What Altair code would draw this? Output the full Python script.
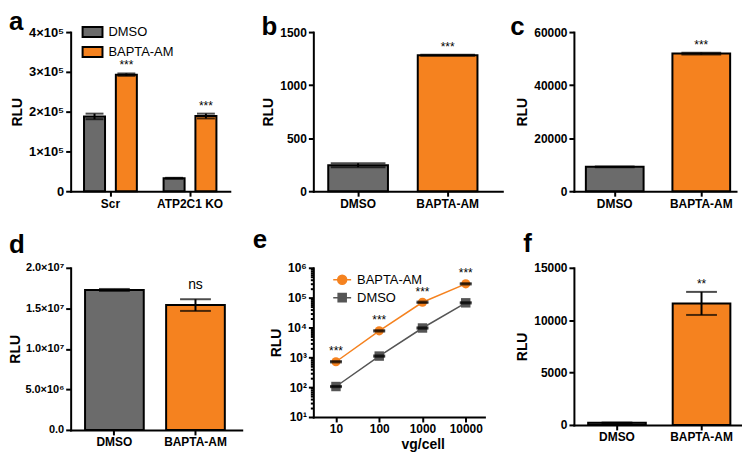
import altair as alt
import pandas as pd

FONT = "Liberation Sans"
GRAY = "#6b6b6b"
ORANGE = "#f5821f"
EGRAY = "#555555"
TREATS = ["DMSO", "BAPTA-AM"]

# ---- data ----
a_group = ["Scr", "Scr", "ATP2C1 KO", "ATP2C1 KO"]
a_treat = ["DMSO", "BAPTA-AM", "DMSO", "BAPTA-AM"]
a_mean = [188000, 293000, 32500, 189000]
a_err = [7000, 3000, 1200, 6000]
a_sig = ["", "***", "", "***"]

b_mean = [245, 1282]
b_err = [18, 4]
b_sig = ["", "***"]

c_mean = [9200, 51900]
c_err = [150, 350]
c_sig = ["", "***"]

d_mean = [1.727e7, 1.54e7]
d_err = [0.012e7, 0.072e7]
d_sig = ["", "ns"]

e_dose = [10, 100, 1000, 10000]
e_bapta = [710, 7700, 70000, 290000]
e_bapta_err = [35, 380, 3500, 14000]
e_dmso = [105, 1100, 9600, 67000]
e_dmso_err = [5, 55, 480, 3300]
e_sig = ["***", "***", "***", "***"]

f_mean = [200, 11600]
f_err = [30, 1100]
f_sig = ["", "**"]

color_scale = alt.Scale(domain=TREATS, range=[GRAY, ORANGE])


def letter_title(t, dx, dy):
    return alt.TitleParams(text=t, anchor="start", frame="group", dx=dx, dy=dy,
                           fontSize=26, fontWeight="bold", font=FONT, color="black",
                           offset=0, baseline="alphabetic", orient="top")


def bar_panel(letter, means, errs, sigs, width, height, ymax, yvals, yexpr,
              pi, po, al, cap, tdx, tdy, sig_dy=-4, sig_size=12,
              ylab_size=12, ytitle_pad=4):
    df = pd.DataFrame({"treat": TREATS, "mean": means,
                       "lo": [m - e for m, e in zip(means, errs)],
                       "hi": [m + e for m, e in zip(means, errs)],
                       "sig": sigs})
    x = alt.X("treat:N", sort=TREATS,
              scale=alt.Scale(paddingInner=pi, paddingOuter=po, align=al),
              axis=alt.Axis(title=None, labelAngle=0))
    yscale = alt.Scale(domain=[0, ymax], nice=False, zero=True)
    base = alt.Chart(df)
    bars = base.mark_bar(stroke="black", strokeWidth=2).encode(
        x=x, y=alt.Y("mean:Q", scale=yscale,
                     axis=alt.Axis(values=yvals, labelExpr=yexpr, title="RLU",
                                   tickCount=20, labelOverlap=False,
                                   labelFontSize=ylab_size, titlePadding=ytitle_pad)),
        color=alt.Color("treat:N", scale=color_scale, legend=None))
    rule = base.mark_rule(color="black", strokeWidth=2).encode(
        x=x, y=alt.Y("lo:Q", scale=yscale), y2="hi:Q")
    tlo = base.mark_tick(color="black", thickness=2, size=cap, orient="horizontal").encode(
        x=x, y=alt.Y("lo:Q", scale=yscale))
    thi = base.mark_tick(color="black", thickness=2, size=cap, orient="horizontal").encode(
        x=x, y=alt.Y("hi:Q", scale=yscale))
    txt = base.mark_text(baseline="alphabetic", dy=sig_dy, fontSize=sig_size, font=FONT,
                         color="black").encode(
        x=x, y=alt.Y("hi:Q", scale=yscale), text="sig:N")
    return alt.layer(bars, rule, tlo, thi, txt).properties(
        width=width, height=height, title=letter_title(letter, tdx, tdy))


# ---- panel a ----
dfa = pd.DataFrame({"group": a_group, "treat": a_treat, "mean": a_mean,
                    "lo": [m - e for m, e in zip(a_mean, a_err)],
                    "hi": [m + e for m, e in zip(a_mean, a_err)],
                    "sig": a_sig})
xa = alt.X("group:N", sort=["Scr", "ATP2C1 KO"],
           scale=alt.Scale(paddingInner=0, paddingOuter=0),
           axis=alt.Axis(title=None, labelAngle=0))
xoa = alt.XOffset("treat:N", sort=TREATS,
                  scale=alt.Scale(paddingInner=0.34, paddingOuter=0.42))
ysa = alt.Scale(domain=[0, 400000], nice=False)
ba = alt.Chart(dfa)
a_bars = ba.mark_bar(stroke="black", strokeWidth=2).encode(
    x=xa, xOffset=xoa,
    y=alt.Y("mean:Q", scale=ysa,
            axis=alt.Axis(values=[0, 100000, 200000, 300000, 400000], title="RLU",
                          labelFontSize=13, labelOverlap=False, tickCount=20,
                          labelExpr="datum.value == 0 ? '0' : format(datum.value/1e5,'d') + '×10⁵'")),
    color=alt.Color("treat:N", scale=color_scale,
                    legend=alt.Legend(title=None, orient="none", legendX=11, legendY=-11,
                                      symbolType="M-1,-0.5H1V0.5H-1Z", symbolSize=400,
                                      symbolStrokeColor="black", symbolStrokeWidth=2,
                                      labelFontSize=13, labelFont=FONT,
                                      labelFontWeight="normal", labelColor="black",
                                      rowPadding=0, padding=0, labelOffset=5,
                                      symbolOpacity=1)))
a_rule = ba.mark_rule(color="black", strokeWidth=2).encode(
    x=xa, xOffset=xoa, y=alt.Y("lo:Q", scale=ysa), y2="hi:Q")
a_tlo = ba.mark_tick(color="black", thickness=2, size=18, orient="horizontal").encode(
    x=xa, xOffset=xoa, y=alt.Y("lo:Q", scale=ysa))
a_thi = ba.mark_tick(color="black", thickness=2, size=18, orient="horizontal").encode(
    x=xa, xOffset=xoa, y=alt.Y("hi:Q", scale=ysa))
a_txt = ba.mark_text(baseline="alphabetic", dy=-4, fontSize=12, font=FONT, color="black").encode(
    x=xa, xOffset=xoa, y=alt.Y("hi:Q", scale=ysa), text="sig:N")
panel_a = alt.layer(a_bars, a_rule, a_tlo, a_thi, a_txt).properties(
    width=160, height=160, title=letter_title("a", -62, 35))

# ---- panels b, c, d, f ----
panel_b = bar_panel("b", b_mean, b_err, b_sig, 190, 160, 1500, [0, 500, 1000, 1500],
                    "format(datum.value,'d')", 0.333, 0.222, 0.375, 55, -52, 35)
panel_c = bar_panel("c", c_mean, c_err, c_sig, 163, 160, 60000,
                    [0, 20000, 40000, 60000], "format(datum.value,'d')",
                    0.333, 0.103, 0.67, 40, -64, 35)
panel_d = bar_panel("d", d_mean, d_err, d_sig, 172, 163, 2e7,
                    [0, 5e6, 1e7, 1.5e7, 2e7],
                    "datum.value == 0 ? '0.0' : datum.value >= 1e7 ? format(datum.value/1e7,'.1f') + '×10⁷' : format(datum.value/1e6,'.1f') + '×10⁶'",
                    0.276, 0.193, 0.46, 31, -62, 17, sig_dy=-10, sig_size=14,
                    ylab_size=11, ytitle_pad=2)
panel_f = bar_panel("f", f_mean, f_err, f_sig, 169, 158, 15000,
                    [0, 5000, 10000, 15000], "format(datum.value,'d')",
                    0.318, 0.153, 0.55, 31, -51, 16)

# ---- panel e ----
dfe = pd.DataFrame({
    "series": ["BAPTA-AM"] * 4 + ["DMSO"] * 4,
    "dose": e_dose + e_dose,
    "mean": e_bapta + e_dmso,
    "lo": [m - e for m, e in zip(e_bapta, e_bapta_err)] + [m - e for m, e in zip(e_dmso, e_dmso_err)],
    "hi": [m + e for m, e in zip(e_bapta, e_bapta_err)] + [m + e for m, e in zip(e_dmso, e_dmso_err)],
    "sig": e_sig + [""] * 4,
})
E_SER = ["BAPTA-AM", "DMSO"]
xe = alt.X("dose:Q", scale=alt.Scale(type="log", domain=[3, 27000], nice=False),
           axis=alt.Axis(values=e_dose, format="d", title="vg/cell", titleX=110,
                         titlePadding=3, labelOverlap=False, tickCount=20))
yes = alt.Scale(type="log", domain=[10, 1e6], nice=False)
be = alt.Chart(dfe)
ye_main = alt.Y("mean:Q", scale=yes,
                axis=alt.Axis(values=[10, 100, 1000, 10000, 100000, 1000000], title="RLU",
                              labelOverlap=False, tickCount=20,
                              labelExpr="'10' + ['⁰','¹','²','³','⁴','⁵','⁶'][round(log(datum.value)/LN10)]"))
e_line_b = be.mark_line(strokeWidth=1.5, color=ORANGE).encode(
    x=xe, y=ye_main).transform_filter(alt.datum.series == "BAPTA-AM")
e_line_d = be.mark_line(strokeWidth=1.5, color=EGRAY).encode(
    x=xe, y=alt.Y("mean:Q", scale=yes)).transform_filter(alt.datum.series == "DMSO")
e_circ = be.mark_point(shape="circle", filled=True, size=85, opacity=1, color=ORANGE).encode(
    x=xe, y=alt.Y("mean:Q", scale=yes)).transform_filter(alt.datum.series == "BAPTA-AM")
e_sq = be.mark_point(shape="square", filled=True, size=90, opacity=1, color=EGRAY).encode(
    x=xe, y=alt.Y("mean:Q", scale=yes)).transform_filter(alt.datum.series == "DMSO")
e_tlo = be.mark_tick(color="black", thickness=2, size=12, orient="horizontal").encode(
    x=xe, y=alt.Y("lo:Q", scale=yes))
e_thi = be.mark_tick(color="black", thickness=2, size=12, orient="horizontal").encode(
    x=xe, y=alt.Y("hi:Q", scale=yes))
e_txt = be.mark_text(baseline="alphabetic", dy=-6, fontSize=12, font=FONT, color="black").encode(
    x=xe, y=alt.Y("hi:Q", scale=yes), text="sig:N")

# legend-only layer (points lie outside the plotted domain and are clipped away)
leg_df = pd.DataFrame({"series": E_SER, "dose": [1, 1], "mean": [1, 1]})
PATH_C = "M-1,0H1M-0.5,0A0.5,0.5,0,1,1,0.5,0A0.5,0.5,0,1,1,-0.5,0Z"
PATH_S = "M-1,0H1M-0.45,-0.45H0.45V0.45H-0.45Z"
e_leg_cfg = alt.Legend(title=None, orient="none", legendX=19, legendY=2,
                       labelFontSize=13, labelFont=FONT, labelFontWeight="normal",
                       labelColor="black", rowPadding=0, padding=0, labelOffset=5,
                       symbolSize=324, symbolStrokeWidth=1.5, symbolOpacity=1)
e_leg = alt.Chart(leg_df).mark_point(filled=True, opacity=1, clip=True, strokeWidth=1.5).encode(
    x=xe, y=alt.Y("mean:Q", scale=yes),
    color=alt.Color("series:N", scale=alt.Scale(domain=E_SER, range=[ORANGE, EGRAY]), legend=e_leg_cfg),
    stroke=alt.Stroke("series:N", scale=alt.Scale(domain=E_SER, range=[ORANGE, EGRAY]), legend=e_leg_cfg),
    shape=alt.Shape("series:N", scale=alt.Scale(domain=E_SER, range=[PATH_C, PATH_S]), legend=e_leg_cfg))

minor_vals = [k * 10 ** p for p in range(1, 6) for k in range(2, 10)]
e_minor = be.mark_point(opacity=0).encode(
    x=xe,
    y=alt.Y("mean:Q", scale=alt.Scale(type="log", domain=[10, 1e6], nice=False),
            axis=alt.Axis(values=minor_vals, labels=False, tickSize=3, domain=False,
                          title=None, orient="left", tickCount=200)))

e_main = alt.layer(e_line_b, e_line_d, e_circ, e_sq, e_tlo, e_thi, e_txt, e_leg)
panel_e = alt.layer(e_main, e_minor).resolve_scale(y="independent").properties(
    width=172, height=150, title=letter_title("e", -61, 12))

chart = alt.concat(panel_a, panel_b, panel_c, panel_d, panel_e, panel_f,
                   columns=3, spacing={"row": 74, "column": 72}, bounds="flush",
                   align={"row": "all", "column": "none"}
                   ).resolve_scale(color="independent", stroke="independent",
                                   shape="independent"
                   ).resolve_legend(color="independent", stroke="independent",
                                    shape="independent"
                   ).properties(padding=0, background="white"
                   ).configure_view(stroke=None
                   ).configure_axis(domainColor="black", domainWidth=2, tickColor="black",
                                    tickWidth=2, tickSize=5, labelFont=FONT,
                                    labelFontWeight="bold", labelFontSize=12,
                                    labelColor="black", titleFont=FONT,
                                    titleFontWeight="bold", titleFontSize=14,
                                    titleColor="black", grid=False, labelPadding=2,
                                    domainCap="square", labelOverlap=False)

chart.save("out.html", embed_options={"renderer": "svg", "actions": False})
